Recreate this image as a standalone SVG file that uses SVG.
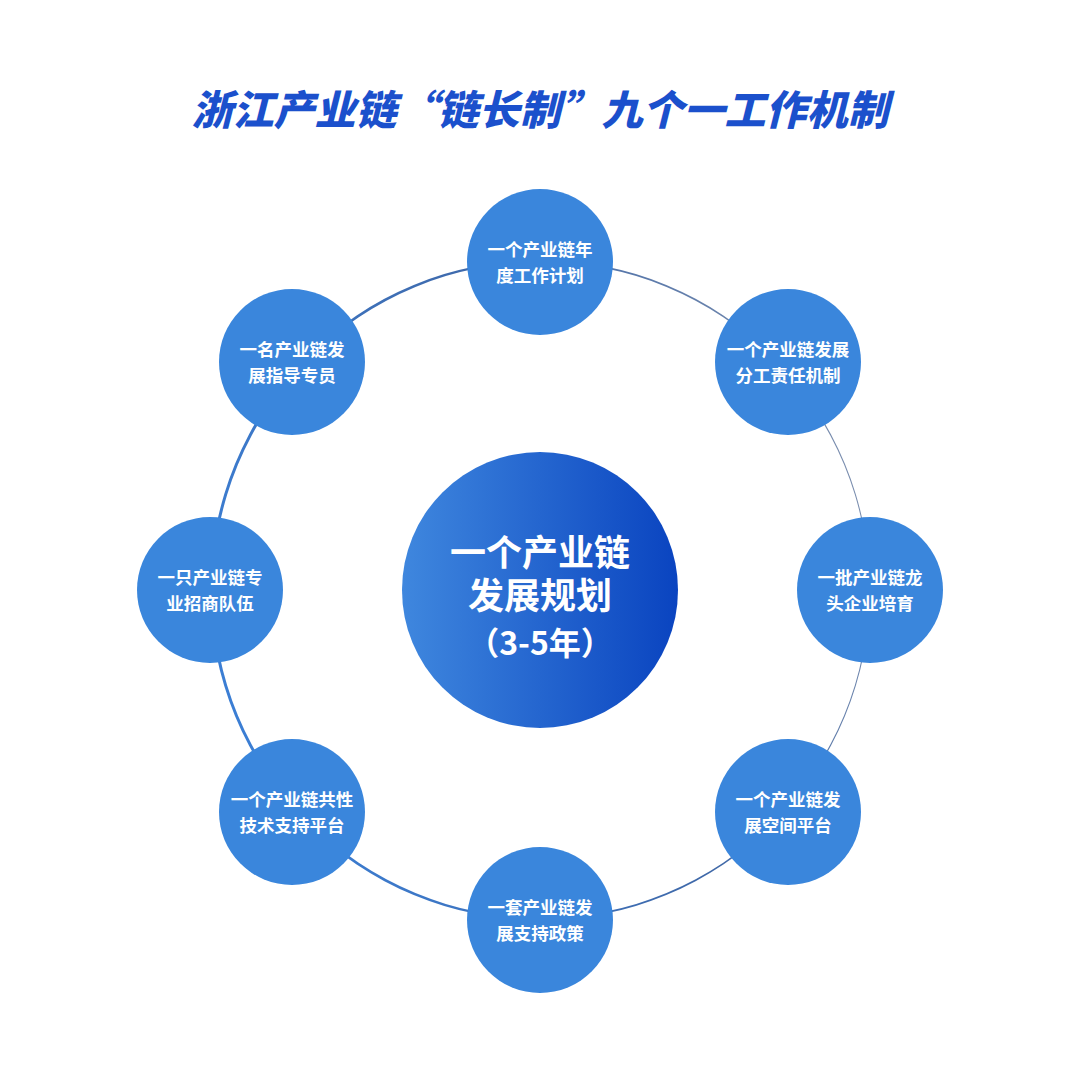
<svg xmlns="http://www.w3.org/2000/svg" width="1080" height="1080" viewBox="0 0 1080 1080">
  <defs>
    <linearGradient id="centerGrad" x1="0" y1="0" x2="1" y2="0">
      <stop offset="0" stop-color="#3f87de"/>
      <stop offset="1" stop-color="#0a44c0"/>
    </linearGradient>
    <linearGradient id="ringGrad" gradientUnits="userSpaceOnUse" x1="210" y1="700" x2="870" y2="480">
      <stop offset="0" stop-color="#3b7fd6"/>
      <stop offset="0.6" stop-color="#3f68a8"/>
      <stop offset="1" stop-color="#7d8fae"/>
    </linearGradient>
  </defs>
  <style>
    .node { fill: #3a86dc; }
    .nt { font-family: "Noto Sans CJK SC", "Noto Sans", sans-serif; font-weight: 700; font-size: 17.5px; fill: #ffffff; text-anchor: middle; }
    .ct { font-family: "Noto Sans CJK SC", "Noto Sans", sans-serif; font-weight: 700; fill: #ffffff; text-anchor: middle; }
    .title { font-family: "Noto Sans CJK SC", sans-serif; font-weight: 900; font-style: italic; font-size: 41px; fill: #1b50cc; text-anchor: middle; }
  </style>
  <rect width="1080" height="1080" fill="#ffffff"/>

  <text class="title" x="540" y="125">浙江产业链“链长制”九个一工作机制</text>

  <g id="connectors">
    <path fill="url(#ringGrad)" fill-rule="evenodd" d="M 210,590 a 330,330 0 1,0 660,0 a 330,330 0 1,0 -660,0 Z M 213,590 a 328,328 0 1,0 656,0 a 328,328 0 1,0 -656,0 Z"/>
  </g>

  <g id="center">
    <circle cx="540" cy="590" r="138" fill="url(#centerGrad)"/>
    <text class="ct" font-size="36"><tspan x="540" y="566">一个产业链</tspan><tspan x="540" y="609">发展规划</tspan></text>
    <text class="ct" x="540" y="655" font-size="32">（3-5年）</text>
  </g>

  <g id="n-top">
    <circle class="node" cx="540" cy="262" r="73"/>
    <text class="nt" x="540" y="256">一个产业链年</text>
    <text class="nt" x="540" y="282">度工作计划</text>
  </g>
  <g id="n-topright">
    <circle class="node" cx="788" cy="362" r="73"/>
    <text class="nt" x="788" y="356">一个产业链发展</text>
    <text class="nt" x="788" y="382">分工责任机制</text>
  </g>
  <g id="n-right">
    <circle class="node" cx="870" cy="590" r="73"/>
    <text class="nt" x="870" y="584">一批产业链龙</text>
    <text class="nt" x="870" y="610">头企业培育</text>
  </g>
  <g id="n-bottomright">
    <circle class="node" cx="788" cy="812" r="73"/>
    <text class="nt" x="788" y="806">一个产业链发</text>
    <text class="nt" x="788" y="832">展空间平台</text>
  </g>
  <g id="n-bottom">
    <circle class="node" cx="540" cy="920" r="73"/>
    <text class="nt" x="540" y="914">一套产业链发</text>
    <text class="nt" x="540" y="940">展支持政策</text>
  </g>
  <g id="n-bottomleft">
    <circle class="node" cx="292" cy="812" r="73"/>
    <text class="nt" x="292" y="806">一个产业链共性</text>
    <text class="nt" x="292" y="832">技术支持平台</text>
  </g>
  <g id="n-left">
    <circle class="node" cx="210" cy="590" r="73"/>
    <text class="nt" x="210" y="584">一只产业链专</text>
    <text class="nt" x="210" y="610">业招商队伍</text>
  </g>
  <g id="n-topleft">
    <circle class="node" cx="292" cy="362" r="73"/>
    <text class="nt" x="292" y="356">一名产业链发</text>
    <text class="nt" x="292" y="382">展指导专员</text>
  </g>
</svg>
